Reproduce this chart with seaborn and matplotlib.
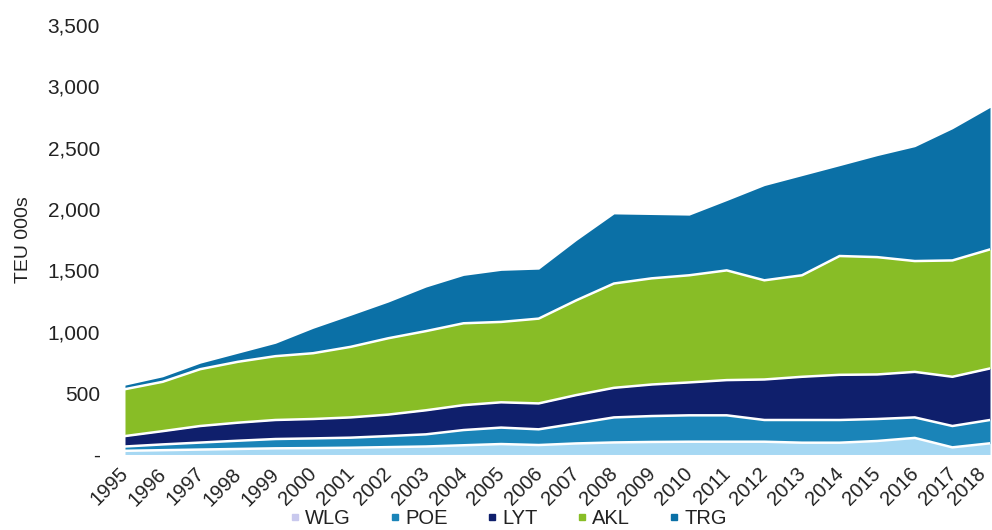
import numpy as np
import pandas as pd
import matplotlib
matplotlib.use("Agg")
import matplotlib.pyplot as plt
from matplotlib.lines import Line2D
from matplotlib.ticker import FuncFormatter
from matplotlib.transforms import ScaledTranslation
import seaborn as sns

# Container throughput by port, TEU thousands
years = list(range(1995, 2019))
wlg = [30, 35, 40, 45, 50, 52, 55, 60, 65, 75, 85, 77, 90, 98, 102, 104, 104, 104, 96, 96, 110, 135, 58, 91]
poe = [35, 47, 57, 67, 76, 79, 82, 90, 99, 124, 134, 128, 163, 204, 211, 215, 215, 177, 185, 185, 179, 167, 174, 190]
lyt = [85, 108, 135, 147, 155, 158, 165, 175, 196, 203, 206, 211, 231, 241, 257, 268, 287, 330, 352, 368, 363, 371, 401, 420]
akl = [382, 402, 463, 496, 520, 536, 575, 622, 645, 667, 655, 691, 772, 850, 865, 873, 894, 808, 827, 968, 956, 903, 948, 970]
trg = [33, 41, 49, 70, 105, 203, 257, 295, 359, 390, 420, 403, 488, 567, 520, 490, 569, 772, 812, 736, 827, 932, 1073, 1157]

ports = ["WLG", "POE", "LYT", "AKL", "TRG"]
colors = ["#a6d8f3", "#1a84b8", "#0f1f6c", "#88bd26", "#0b70a6"]
legend_colors = ["#c9c9ee", "#1a84b8", "#0f1f6c", "#88bd26", "#0b70a6"]

df = pd.DataFrame({"year": years, "WLG": wlg, "POE": poe, "LYT": lyt, "AKL": akl, "TRG": trg})

sns.set_theme(style="white")
plt.rcParams["font.family"] = ["Liberation Sans", "DejaVu Sans"]

fig = plt.figure(figsize=(9.92, 5.30), dpi=100)
ax = fig.add_axes([0.126, 0.1425, 0.872, 0.8105])

ax.stackplot(df["year"], *[df[p] for p in ports], colors=colors, linewidth=0)

# white separators between stacked layers
cum = df[ports].cumsum(axis=1)
for p in ports[:-1]:
    sns.lineplot(x=df["year"], y=cum[p], ax=ax, color="white", linewidth=1.8, legend=False)

ax.set_xlim(1995, 2018)
ax.set_ylim(0, 3500)
ax.set_yticks(np.arange(0, 3501, 500))
ax.yaxis.set_major_formatter(FuncFormatter(lambda v, _: "-" if v == 0 else f"{int(v):,}"))
ax.set_xticks(years)
ax.set_xticklabels([str(y) for y in years], rotation=45, ha="right", rotation_mode="anchor")
ax.tick_params(axis="x", labelsize=14.5, colors="#222222", length=0, pad=7)
ax.tick_params(axis="y", labelsize=15, colors="#222222", length=0, pad=18)
xlabels = ax.get_xticklabels()
for i, lbl in enumerate(xlabels):
    dx = -14 if i == len(xlabels) - 1 else -6
    lbl.set_transform(lbl.get_transform() + ScaledTranslation(dx / 100, 0, fig.dpi_scale_trans))
ax.set_xlabel("")
ax.set_ylabel("TEU 000s", fontsize=14, color="#222222")
ax.yaxis.set_label_coords(-0.108, 0.5)
for s in ax.spines.values():
    s.set_visible(False)
ax.grid(False)

handles = [Line2D([0], [0], marker="s", linestyle="", markersize=5,
                  markerfacecolor=c, markeredgecolor=c) for c in legend_colors]
fig.legend(handles, ports, loc="lower center", bbox_to_anchor=(0.511, -0.03), ncol=5,
           frameon=False, fontsize=14.5, handletextpad=0.1, columnspacing=1.8,
           handlelength=0.8, labelcolor="#222222")

fig.savefig("out.png", dpi=100)
